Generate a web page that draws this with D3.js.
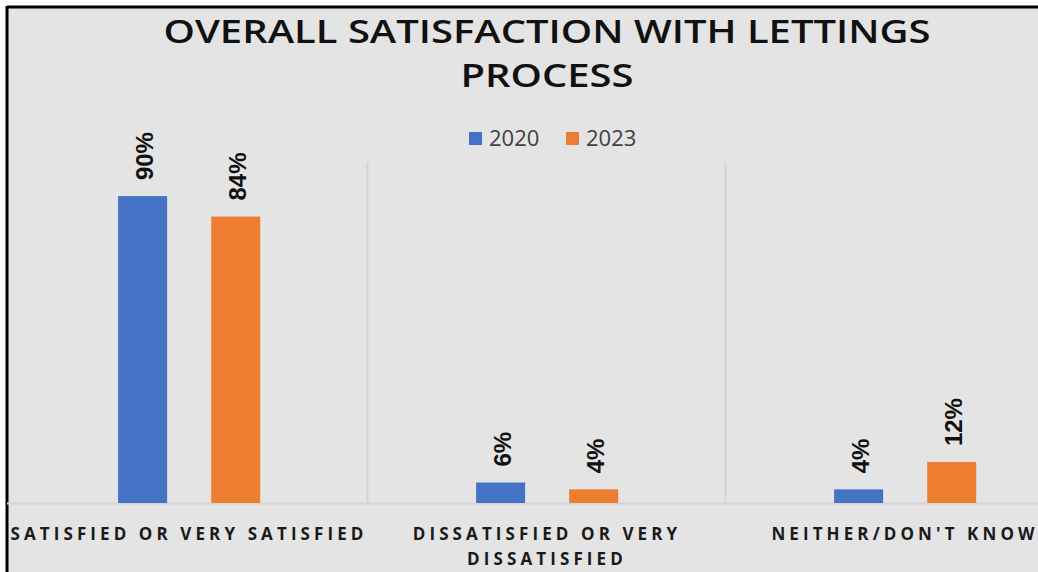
<!DOCTYPE html>
<html><head><meta charset="utf-8">
<script src="https://cdn.jsdelivr.net/npm/d3@7"></script>
<style>html,body{margin:0;padding:0;background:#fff;}svg{display:block;}</style>
</head><body>
<script>
const categories = ["SATISFIED OR VERY SATISFIED", "DISSATISFIED OR VERY DISSATISFIED", "NEITHER/DON'T KNOW"];
const categoryLines = [["SATISFIED OR VERY SATISFIED"], ["DISSATISFIED OR VERY", "DISSATISFIED"], ["NEITHER/DON'T KNOW"]];
const seriesNames = ["2020", "2023"];
const values2020 = [90, 6, 4];
const values2023 = [84, 4, 12];
const colors = ["#4472c4", "#ed7d31"];

const W = 1038, H = 572;
const svg = d3.select("body").append("svg").attr("width", W).attr("height", H);
svg.append("rect").attr("x", 0).attr("y", 0).attr("width", W).attr("height", H).attr("fill", "#fff");
svg.append("rect").attr("x", 7).attr("y", 7).attr("width", W).attr("height", H).attr("fill", "#e4e4e4");
svg.append("line").attr("x1", 7).attr("x2", W).attr("y1", 7).attr("y2", 7).attr("stroke", "#000").attr("stroke-width", 3);
svg.append("line").attr("x1", 7).attr("x2", 7).attr("y1", 6).attr("y2", H).attr("stroke", "#000").attr("stroke-width", 3);

// title
const titleFont = {family: "'Open Sans', sans-serif", size: 32};
svg.append("text").attr("text-anchor", "middle")
  .attr("font-family", titleFont.family).attr("font-weight", 600)
  .attr("font-size", titleFont.size).attr("fill", "#111")
  .attr("x", 547).attr("y", 43).attr("textLength", 767).attr("lengthAdjust", "spacingAndGlyphs")
  .text("OVERALL SATISFACTION WITH LETTINGS");
svg.append("text").attr("text-anchor", "middle")
  .attr("font-family", titleFont.family).attr("font-weight", 600)
  .attr("font-size", titleFont.size).attr("fill", "#111")
  .attr("x", 547).attr("y", 87).attr("textLength", 173).attr("lengthAdjust", "spacingAndGlyphs").text("PROCESS");

const x0 = d3.scaleBand().domain(categories).range([10, 1084]).paddingInner(0).paddingOuter(0);
const y = d3.scaleLinear().domain([0, 100]).range([503, 162]);

// separators
const g = svg.append("g");
categories.forEach((c, i) => {
  if (i > 0) {
    g.append("line").attr("x1", x0(c) - 0.5).attr("x2", x0(c) - 0.5).attr("y1", 162).attr("y2", 503)
      .attr("stroke", "#d4d4d4").attr("stroke-width", 2);
  }
});
g.append("line").attr("x1", 7).attr("x2", W).attr("y1", y(0) + 0.5).attr("y2", y(0) + 0.5)
  .attr("stroke", "#d4d4d4").attr("stroke-width", 2);

const data = categories.map((c, i) => ({cat: c, vals: [values2020[i], values2023[i]]}));
const bw = 49;
const offsets = [x0.bandwidth()*0.302, x0.bandwidth()*0.562];
data.forEach(d => {
  d.vals.forEach((v, j) => {
    const bx = x0(d.cat) + offsets[j];
    g.append("rect").attr("x", bx).attr("y", y(v)).attr("width", bw).attr("height", y(0) - y(v))
      .attr("fill", colors[j]);
    g.append("text").attr("transform", `translate(${bx + bw/2 + 10},${y(v) - 16}) rotate(-90)`)
      .attr("font-family", "'Liberation Sans', Arial, sans-serif").attr("font-weight", 700)
      .attr("font-size", 24).attr("fill", "#111").text(v + "%");
  });
});

// category labels
categoryLines.forEach((lines, i) => {
  const cx = x0(categories[i]) + x0.bandwidth()/2;
  lines.forEach((ln, k) => {
    svg.append("text").attr("x", cx).attr("y", 540 + k*25).attr("text-anchor", "middle")
      .attr("font-family", "'Open Sans', sans-serif").attr("font-weight", 700)
      .attr("font-size", 17).attr("letter-spacing", 4.1).attr("fill", "#1a1a1a").text(ln);
  });
});

// legend
const legend = svg.append("g").attr("font-family", "'Open Sans', sans-serif").attr("font-size", 22).attr("fill", "#404040");
const legX = [469, 566];
seriesNames.forEach((s, j) => {
  legend.append("rect").attr("x", legX[j]).attr("y", 132).attr("width", 13).attr("height", 13).attr("fill", colors[j]);
  legend.append("text").attr("x", legX[j] + 20).attr("y", 146).attr("fill", "#404040").text(s);
});
</script>
</body></html>
